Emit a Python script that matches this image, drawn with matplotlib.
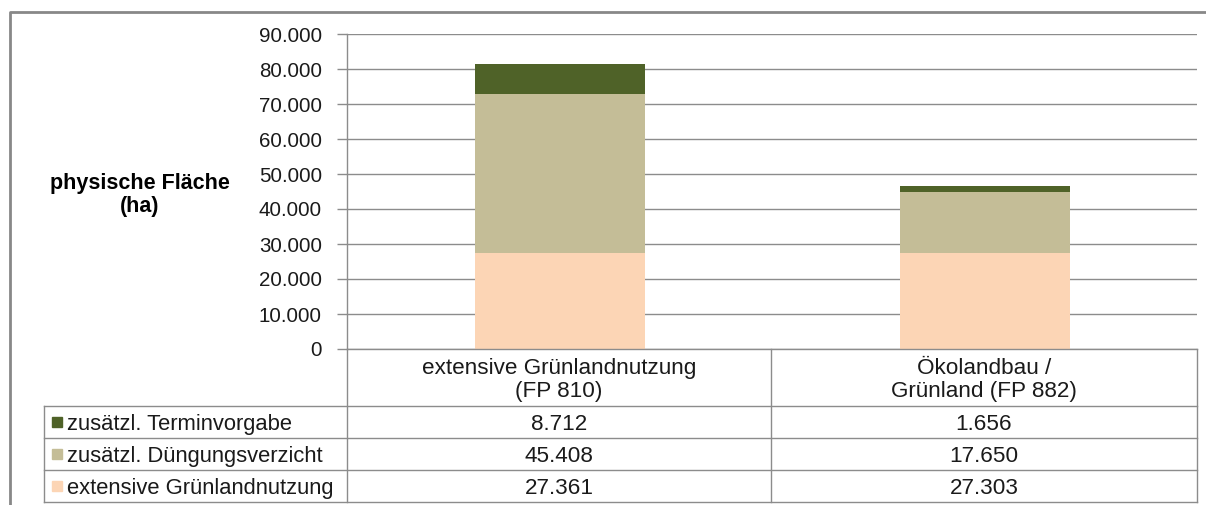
import matplotlib
matplotlib.use("Agg")
import matplotlib.pyplot as plt
from matplotlib.lines import Line2D
from matplotlib.patches import Rectangle

plt.rcParams['font.family'] = ['Liberation Sans', 'DejaVu Sans']

categories = ["extensive Grünlandnutzung\n(FP 810)", "Ökolandbau /\nGrünland (FP 882)"]
series_names = ["zusätzl. Terminvorgabe", "zusätzl. Düngungsverzicht", "extensive Grünlandnutzung"]
termin = [8712, 1656]
duengung = [45408, 17650]
extensiv = [27361, 27303]
yticks = [0, 10000, 20000, 30000, 40000, 50000, 60000, 70000, 80000, 90000]
ytick_labels = ["0", "10.000", "20.000", "30.000", "40.000", "50.000", "60.000", "70.000", "80.000", "90.000"]
ylabel = "physische Fläche\n(ha)"

col_dark = "#4f6228"
col_tan = "#c4bd97"
col_peach = "#fcd5b5"
grid_col = "#8c8c8c"

W, H = 1206, 505
fig = plt.figure(figsize=(W / 100, H / 100), dpi=100)

def fx(px):
    return px / W

def fy(py):
    return 1 - py / H

x_left, x_right, y_top, y_bot = 347, 1197, 34, 349
ax = fig.add_axes([fx(x_left), fy(y_bot), fx(x_right) - fx(x_left), fy(y_top) - fy(y_bot)])

xs = [i + 0.5 for i in range(len(categories))]
bw = 0.4
ax.bar(xs, extensiv, bw, color=col_peach, zorder=3)
bottom2 = [a for a in extensiv]
ax.bar(xs, duengung, bw, bottom=bottom2, color=col_tan, zorder=3)
bottom3 = [a + b for a, b in zip(extensiv, duengung)]
ax.bar(xs, termin, bw, bottom=bottom3, color=col_dark, zorder=3)

ax.set_xlim(0, len(categories))
ax.set_ylim(0, 90000)
ax.set_yticks(yticks)
ax.set_yticklabels(ytick_labels, fontsize=14.8, color="#1a1a1a")
ax.set_xticks([])
ax.yaxis.grid(True, color=grid_col, lw=1, zorder=0)
ax.set_axisbelow(True)
for s in ["top", "right", "bottom"]:
    ax.spines[s].set_visible(False)
ax.spines["left"].set_color(grid_col)
ax.spines["left"].set_linewidth(1)
ax.tick_params(axis="y", length=7, width=1, color=grid_col, pad=11)

# y label
fig.text(fx(140), fy(195), ylabel, ha="center", va="center", fontsize=15.5,
         fontweight="bold", linespacing=1.15)

# Outer border
fig.add_artist(Line2D([fx(10), fx(10), fx(W + 5)], [fy(H + 5), fy(12), fy(12)],
                      transform=fig.transFigure, color="#888888", lw=2))

# Table lines
tl = dict(transform=fig.transFigure, color=grid_col, lw=1)
col_edges = [x_left, 771, x_right]
row_lines = [406, 438, 470, 502]
leg_left = 44
fig.add_artist(Line2D([fx(x_left), fx(x_right)], [fy(y_bot), fy(y_bot)], **tl))
for r in row_lines:
    fig.add_artist(Line2D([fx(leg_left), fx(x_right)], [fy(r), fy(r)], **tl))
for c in col_edges:
    fig.add_artist(Line2D([fx(c), fx(c)], [fy(y_bot), fy(502)], **tl))
fig.add_artist(Line2D([fx(leg_left), fx(leg_left)], [fy(406), fy(502)], **tl))

# Category header
col_centers = [(col_edges[i] + col_edges[i + 1]) / 2 for i in range(len(categories))]
for cx, cat in zip(col_centers, categories):
    fig.text(fx(cx), fy(380), cat, ha="center", va="center", fontsize=16.2,
             linespacing=1.12, color="#1a1a1a")

# Rows
rows = [termin, duengung, extensiv]
colors = [col_dark, col_tan, col_peach]
row_centers = [422, 454, 486]
for name, vals, col, rc in zip(series_names, rows, colors, row_centers):
    fig.add_artist(Rectangle((fx(52), fy(rc + 5)), fx(10), fy(rc - 5) - fy(rc + 5),
                             transform=fig.transFigure, color=col))
    fig.text(fx(67), fy(rc), name, ha="left", va="center_baseline", fontsize=15.8,
             color="#1a1a1a")
    for cx, v in zip(col_centers, vals):
        fig.text(fx(cx), fy(rc), f"{v:,}".replace(",", "."), ha="center",
                 va="center_baseline", fontsize=16.2, color="#1a1a1a")

fig.savefig("out.png", dpi=100)
